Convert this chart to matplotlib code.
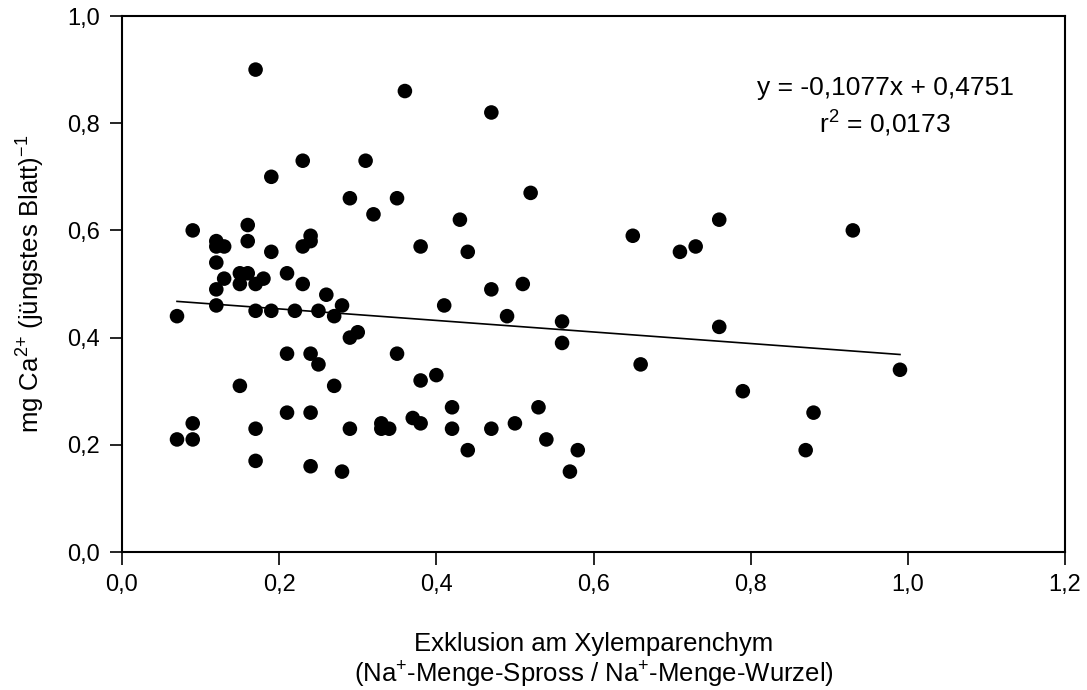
import matplotlib
matplotlib.use("Agg")
import matplotlib.pyplot as plt
import numpy as np

plt.rcParams['font.family'] = ['Liberation Sans', 'DejaVu Sans']
plt.rcParams['mathtext.fontset'] = 'custom'
plt.rcParams['mathtext.rm'] = 'Liberation Sans'
plt.rcParams['mathtext.it'] = 'Liberation Sans:italic'
plt.rcParams['mathtext.bf'] = 'Liberation Sans:bold'
plt.rcParams['mathtext.default'] = 'regular'

x_vals = [0.17, 0.36, 0.23, 0.31, 0.19, 0.29, 0.35, 0.32, 0.09, 0.16,
          0.12, 0.12, 0.13, 0.16, 0.19, 0.23, 0.24, 0.24, 0.38, 0.12,
          0.13, 0.15, 0.16, 0.15, 0.17, 0.18, 0.21, 0.23, 0.12, 0.26,
          0.28, 0.07, 0.12, 0.17, 0.19, 0.22, 0.25, 0.27, 0.41, 0.29,
          0.30, 0.21, 0.24, 0.25, 0.35, 0.15, 0.27, 0.38, 0.40, 0.09,
          0.07, 0.09, 0.17, 0.21, 0.24, 0.29, 0.33, 0.33, 0.34, 0.37,
          0.38, 0.17, 0.24, 0.28, 0.47, 0.52, 0.43, 0.44, 0.47, 0.51,
          0.65, 0.71, 0.73, 0.76, 0.49, 0.56, 0.56, 0.76, 0.66, 0.79,
          0.42, 0.53, 0.42, 0.47, 0.50, 0.44, 0.54, 0.58, 0.57, 0.93,
          0.99, 0.88, 0.87]
y_vals = [0.90, 0.86, 0.73, 0.73, 0.70, 0.66, 0.66, 0.63, 0.60, 0.61,
          0.58, 0.57, 0.57, 0.58, 0.56, 0.57, 0.59, 0.58, 0.57, 0.54,
          0.51, 0.52, 0.52, 0.50, 0.50, 0.51, 0.52, 0.50, 0.49, 0.48,
          0.46, 0.44, 0.46, 0.45, 0.45, 0.45, 0.45, 0.44, 0.46, 0.40,
          0.41, 0.37, 0.37, 0.35, 0.37, 0.31, 0.31, 0.32, 0.33, 0.24,
          0.21, 0.21, 0.23, 0.26, 0.26, 0.23, 0.24, 0.23, 0.23, 0.25,
          0.24, 0.17, 0.16, 0.15, 0.82, 0.67, 0.62, 0.56, 0.49, 0.50,
          0.59, 0.56, 0.57, 0.62, 0.44, 0.43, 0.39, 0.42, 0.35, 0.30,
          0.27, 0.27, 0.23, 0.23, 0.24, 0.19, 0.21, 0.19, 0.15, 0.60,
          0.34, 0.26, 0.19]

slope = -0.1077
intercept = 0.4751
x_ticks = [0.0, 0.2, 0.4, 0.6, 0.8, 1.0, 1.2]
y_ticks = [0.0, 0.2, 0.4, 0.6, 0.8, 1.0]

fig = plt.figure(figsize=(10.87, 6.90), dpi=100)
ax = fig.add_axes([122/1087, 138/690, (1065-122)/1087, (552-16)/690])

ax.scatter(x_vals, y_vals, s=110, c='black', edgecolors='none', zorder=3)
xl = np.array([min(x_vals), max(x_vals)])
ax.plot(xl, slope * xl + intercept, color='black', lw=1.2, zorder=2)

ax.set_xlim(0, 1.2)
ax.set_ylim(0, 1.0)
ax.set_xticks(x_ticks)
ax.set_yticks(y_ticks)
ax.set_xticklabels([f"{t:.1f}".replace('.', ',') for t in x_ticks])
ax.set_yticklabels([f"{t:.1f}".replace('.', ',') for t in y_ticks])
ax.tick_params(direction='out', length=9, width=1.2, labelsize=17, pad=7)
for sp in ax.spines.values():
    sp.set_linewidth(1.5)

ax.set_xlabel("Exklusion am Xylemparenchym\n(Na$^{{+}}$-Menge-Spross / Na$^{{+}}$-Menge-Wurzel)",
              fontsize=18.5, labelpad=26, linespacing=1.15)
ax.set_ylabel("mg Ca$^{2{+}}$ (jüngstes Blatt)$^{-1}$", fontsize=18.5, labelpad=14)

ax.text(0.971, 0.853, "y = -0,1077x + 0,4751", ha='center', va='baseline', fontsize=19)
ax.text(0.971, 0.782, "r$^{2}$ = 0,0173", ha='center', va='baseline', fontsize=19)

fig.savefig("out.png", dpi=100)
